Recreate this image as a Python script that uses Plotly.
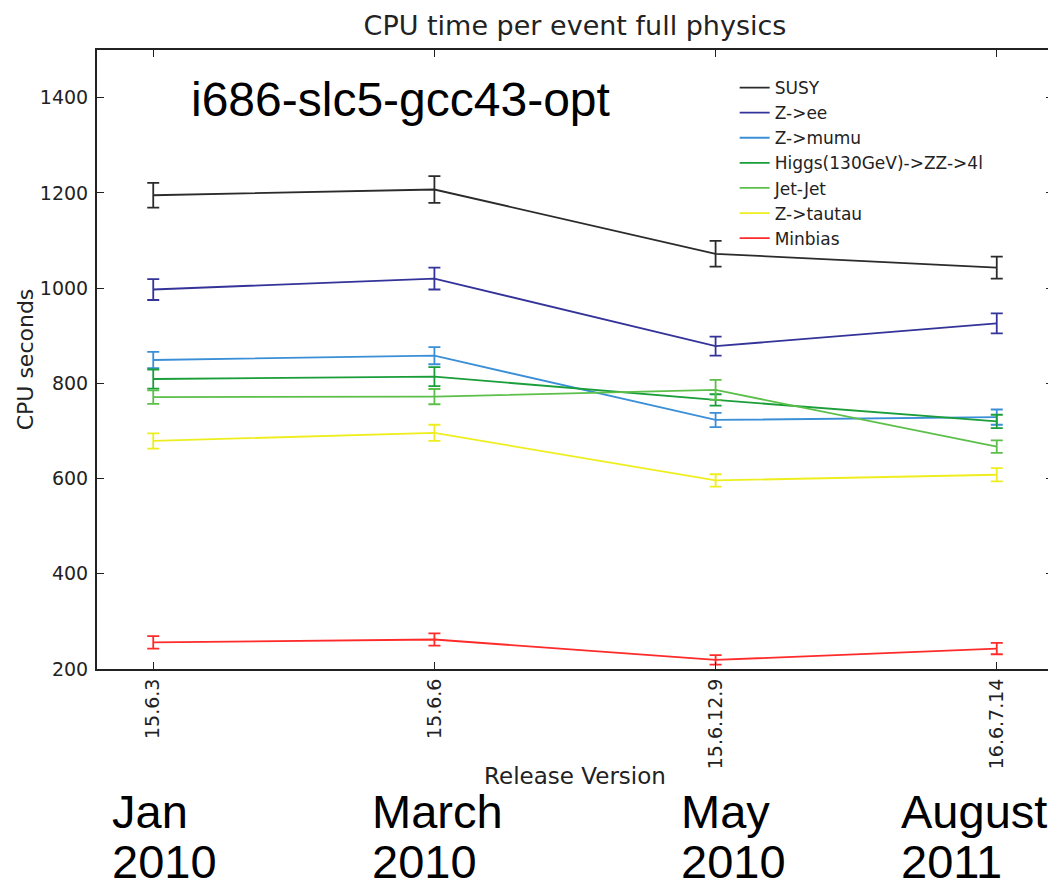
import plotly.graph_objects as go

versions = ["15.6.3", "15.6.6", "15.6.12.9", "16.6.7.14"]
dates = [("Jan", "2010"), ("March", "2010"), ("May", "2010"), ("August", "2011")]

series_names = ["SUSY", "Z->ee", "Z->mumu", "Higgs(130GeV)->ZZ->4l", "Jet-Jet", "Z->tautau", "Minbias"]
susy = [1195, 1207, 1072, 1043]
susy_err = [26, 28, 27, 23]
zee = [997, 1020, 878, 926]
zee_err = [22, 23, 20, 21]
zmumu = [849, 858, 723, 729]
zmumu_err = [17, 18, 15, 16]
higgs = [809, 814, 765, 720]
higgs_err = [20, 20, 12, 14]
jetjet = [771, 772, 786, 667]
jetjet_err = [14, 16, 21, 13]
ztautau = [679, 696, 596, 608]
ztautau_err = [16, 17, 13, 14]
minbias = [256, 262, 219, 243]
minbias_err = [13, 13, 10, 12]

values = [susy, zee, zmumu, higgs, jetjet, ztautau, minbias]
errors = [susy_err, zee_err, zmumu_err, higgs_err, jetjet_err, ztautau_err, minbias_err]
colors = ["#2b2b2b", "#333399", "#3a8fd6", "#1a9e3a", "#5cbf4a", "#eeee1e", "#ff2a2a"]

fig = go.Figure()
xs = list(range(len(versions)))
for name, v, e, c in zip(series_names, values, errors, colors):
    fig.add_trace(go.Scatter(
        x=xs, y=v, name=name, mode="lines",
        line=dict(color=c, width=1.8),
        error_y=dict(type="data", array=e, visible=True, color=c, thickness=1.8, width=6),
    ))

# page body has an 8px margin; work in screen (reference) pixels and shift
OFF = 8
W, H = 1056 - OFF, 881 - OFF
L, R, T, B = 97 - OFF, 1055 - OFF, 50 - OFF, 669 - OFF

def px_x(p):  # p in reference/screen pixels
    return (p - OFF - L) / (R - L)

def px_y(p):
    return (B - (p - OFF)) / (B - T)

fig.update_layout(
    width=W, height=H,
    margin=dict(l=L, r=W - R, t=T, b=H - B),
    paper_bgcolor="white", plot_bgcolor="white",
    font=dict(family="DejaVu Sans", color="#222222"),
    title=dict(text="CPU time per event full physics", xref="paper", x=px_x(576), xanchor="center",
               yref="container", y=1 - (26 - OFF) / H, yanchor="middle",
               font=dict(size=27, color="#222222")),
    showlegend=True,
    legend=dict(x=px_x(736), y=px_y(70), xanchor="left", yanchor="top",
                bgcolor="rgba(0,0,0,0)", borderwidth=0,
                font=dict(size=17, color="#222222"), itemclick=False),
)

fig.update_xaxes(
    range=[-0.2, 3.2], tickmode="array", tickvals=xs, ticktext=versions,
    tickangle=-90, tickfont=dict(size=19, color="#222222"),
    showline=True, linecolor="#222222", linewidth=2, mirror="ticks",
    ticks="inside", ticklen=7, tickcolor="#222222", showgrid=False, zeroline=False,
    title=dict(text="Release Version", font=dict(size=23, color="#222222"), standoff=0),
)
fig.update_yaxes(
    range=[200, 1500], tickmode="array", tickvals=[200, 400, 600, 800, 1000, 1200, 1400],
    tickfont=dict(size=19, color="#222222"), ticklabelstandoff=3,
    showline=True, linecolor="#222222", linewidth=2, mirror="ticks",
    ticks="inside", ticklen=7, tickcolor="#222222", showgrid=False, zeroline=False,
    title=dict(text="CPU seconds", font=dict(size=22, color="#222222"), standoff=0),
)

big = dict(family="Liberation Sans, Arial", color="black")
fig.add_annotation(text="i686-slc5-gcc43-opt", xref="paper", yref="paper",
                   x=px_x(189), y=px_y(100), xanchor="left", yanchor="middle",
                   showarrow=False, font=dict(size=48, **big))

date_left_px = [110, 371, 680, 901]
for (m, yr), lp in zip(dates, date_left_px):
    fig.add_annotation(text=m, xref="paper", yref="paper",
                       x=px_x(lp), y=px_y(811), xanchor="left", yanchor="middle",
                       showarrow=False, font=dict(size=47, **big))
    fig.add_annotation(text=yr, xref="paper", yref="paper",
                       x=px_x(lp), y=px_y(862), xanchor="left", yanchor="middle",
                       showarrow=False, font=dict(size=47, **big))

fig.write_html("out.html")
